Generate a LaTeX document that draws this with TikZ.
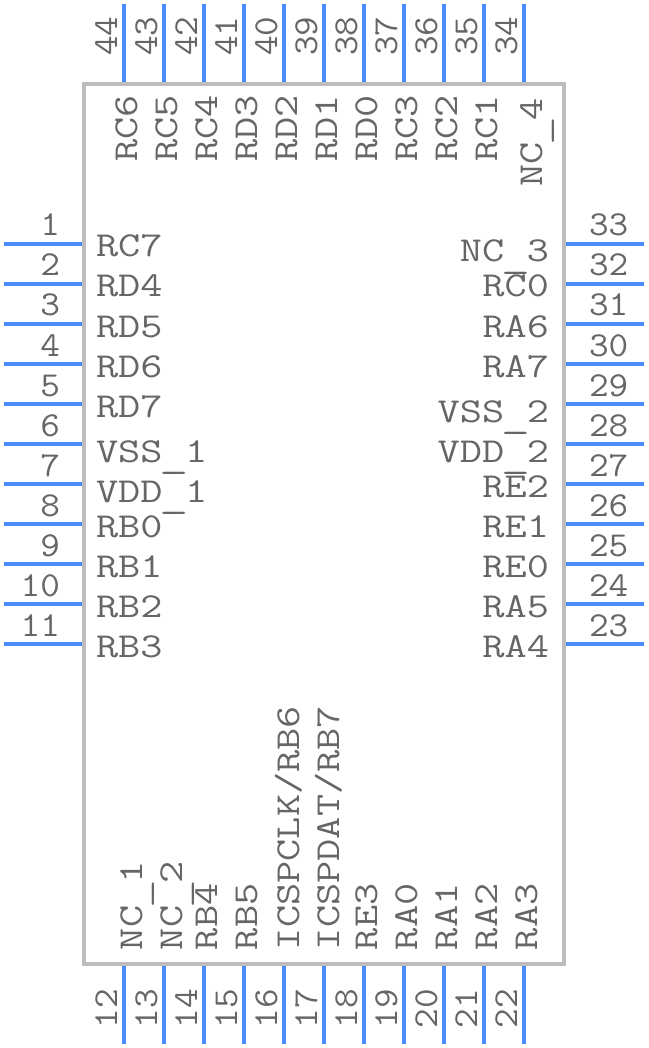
\documentclass[tikz,border=0pt]{standalone}
\usepackage{graphicx}
\usepackage{fontspec}
\newfontfamily\namefont{Latin Modern Mono}[FakeStretch=1.23]
\newfontfamily\numfont{Latin Modern Mono}[FakeStretch=1.09]
\newcommand{\lowus}{\makebox[22.6pt]{\raisebox{-5.5pt}{\scalebox{1.3}[1]{\_}}}}
\definecolor{pinblue}{HTML}{4A8DF8}
\definecolor{bodygray}{HTML}{BDBDBD}
\definecolor{textgray}{HTML}{666666}
\tikzset{
  x=1pt,y=-1pt,
  chip/.style={draw=bodygray,line width=4pt,line join=miter},
  pin/.style={draw=pinblue,line width=4pt},
  lab/.style={inner sep=0pt,outer sep=0pt,text=textgray,font=\fontsize{35}{35}\selectfont\namefont},
  tag/.style={inner sep=0pt,outer sep=0pt,text=textgray,font=\fontsize{35}{35}\selectfont\numfont},
}
\begin{document}
\begin{tikzpicture}
\useasboundingbox (0,0) rectangle (648,1048);
% left side
\foreach \n/\t/\ly [count=\i from 0] in {1/RC7/257,2/RD4/297,3/RD5/337,4/RD6/377,5/RD7/417,6/VSS\lowus 1/462,7/VDD\lowus 1/502,8/RB0/537,9/RB1/577,10/RB2/617,11/RB3/657}{
  \pgfmathsetmacro\py{244+40*\i}
  \coordinate (pa\n) at (4,\py); \coordinate (pb\n) at (82,\py);
  \draw[pin] (pa\n) -- (pb\n);
  \node[tag,anchor=base east] (num\n) at (60,\py-8) {\n};
  \node[lab,anchor=base west] (name\n) at (96,\ly) {\t};
}
% right side
\foreach \n/\t/\ly [count=\i from 0] in {33/NC\lowus 3/262,32/RC0/297,31/RA6/337,30/RA7/377,29/VSS\lowus 2/422,28/VDD\lowus 2/462,27/RE2/497,26/RE1/537,25/RE0/577,24/RA5/617,23/RA4/657}{
  \pgfmathsetmacro\py{244+40*\i}
  \coordinate (pa\n) at (644,\py); \coordinate (pb\n) at (566,\py);
  \draw[pin] (pa\n) -- (pb\n);
  \node[tag,anchor=base west] (num\n) at (589,\py-8) {\n};
  \node[lab,anchor=base east] (name\n) at (549,\ly) {\t};
}
% top side
\foreach \n/\t/\bx/\sy [count=\i from 0] in {44/RC6/137/162,43/RC5/177/162,42/RC4/217/162,41/RD3/257/162,40/RD2/297/162,39/RD1/337/162,38/RD0/377/162,37/RC3/417/162,36/RC2/457/162,35/RC1/497/162,34/NC\lowus 4/542/187}{
  \pgfmathsetmacro\px{124+40*\i}
  \coordinate (pa\n) at (\px,4); \coordinate (pb\n) at (\px,82);
  \draw[pin] (pa\n) -- (pb\n);
  \node[tag,rotate=90,anchor=base west] (num\n) at (\px-7,56) {\n};
  \node[lab,rotate=90,anchor=base west] (name\n) at (\bx,\sy) {\t};
}
% bottom side
\foreach \n/\t/\bx [count=\i from 0] in {12/NC\lowus 1/142,13/NC\lowus 2/182,14/RB4/217,15/RB5/257,16/ICSPCLK\slash RB6/299,17/ICSPDAT\slash RB7/339,18/RE3/377,19/RA0/417,20/RA1/457,21/RA2/497,22/RA3/537}{
  \pgfmathsetmacro\px{124+40*\i}
  \coordinate (pa\n) at (\px,1044); \coordinate (pb\n) at (\px,966);
  \draw[pin] (pa\n) -- (pb\n);
  \node[tag,rotate=90,anchor=base west] (num\n) at (\px-7,1028) {\n};
  \node[lab,rotate=90,anchor=base west] (name\n) at (\bx,950) {\t};
}
\node[chip,inner sep=0pt,outer sep=0pt,minimum width=480pt,minimum height=880pt] (body) at (324,524) {};
\end{tikzpicture}
\end{document}
